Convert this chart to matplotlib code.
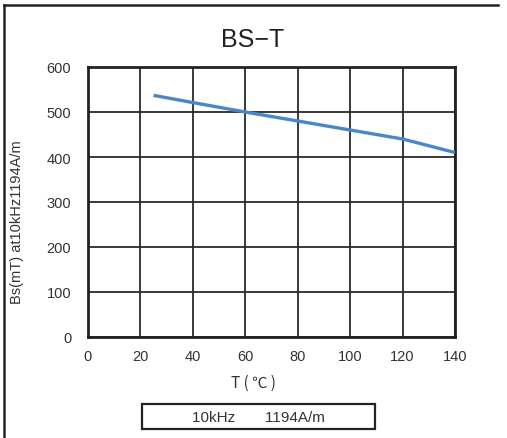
import matplotlib
matplotlib.use("Agg")
import matplotlib.pyplot as plt
from matplotlib.patches import Rectangle
from matplotlib.lines import Line2D

temps = [25, 40, 60, 80, 100, 120, 140]
bs_values = [537, 521, 500, 480, 460, 440, 410]
x_ticks = [0, 20, 40, 60, 80, 100, 120, 140]
y_ticks = [0, 100, 200, 300, 400, 500, 600]

plt.rcParams['font.family'] = ['Liberation Sans', 'DejaVu Sans']

W, H = 507, 439
fig = plt.figure(figsize=(W / 100, H / 100), dpi=100)
ax = fig.add_axes([88 / W, 1 - 338 / H, (455 - 88) / W, (338 - 68) / H])

ax.plot(temps, bs_values, color='#4a86c8', lw=2.4, solid_capstyle='butt', zorder=3)
ax.set_xlim(0, 140)
ax.set_ylim(0, 600)
ax.set_xticks(x_ticks)
ax.set_yticks(y_ticks)
ax.grid(True, color='#2a2a2a', lw=1.3)
ax.set_axisbelow(True)
for s in ax.spines.values():
    s.set_color('#222222')
    s.set_linewidth(2)
ax.tick_params(length=0, labelsize=10.5, labelcolor='#333333')
ax.tick_params(axis='y', pad=12)
ax.tick_params(axis='x', pad=9)

fig.text(253 / W, 1 - 40 / H, 'BS\u2212T', ha='center', va='center', fontsize=18, color='#222222')
fig.text(17 / W, 1 - 222 / H, 'Bs(mT) at10kHz1194A/m', rotation=90, ha='center', va='center',
         fontsize=10.5, color='#333333')
fig.text(253 / W, 1 - 383 / H, 'T ( \u2103 )', ha='center', va='center', fontsize=11,
         color='#333333', family=['Noto Sans CJK SC', 'Liberation Sans'])

fig.patches.append(Rectangle((142 / W, 1 - 430 / H), (375 - 142) / W, (430 - 405) / H,
                             transform=fig.transFigure, fill=False, edgecolor='#222222', lw=1.6))
fig.text(258 / W, 1 - 418 / H, '10kHz       1194A/m', ha='center', va='center', fontsize=11,
         color='#333333')

fig.lines.append(Line2D([4 / W, 498 / W], [1 - 6 / H, 1 - 6 / H], transform=fig.transFigure,
                        color='#222222', lw=1.8))
fig.lines.append(Line2D([4 / W, 4 / W], [1 - 6 / H, 0], transform=fig.transFigure,
                        color='#222222', lw=1.8))

fig.savefig('out.png', dpi=100)
